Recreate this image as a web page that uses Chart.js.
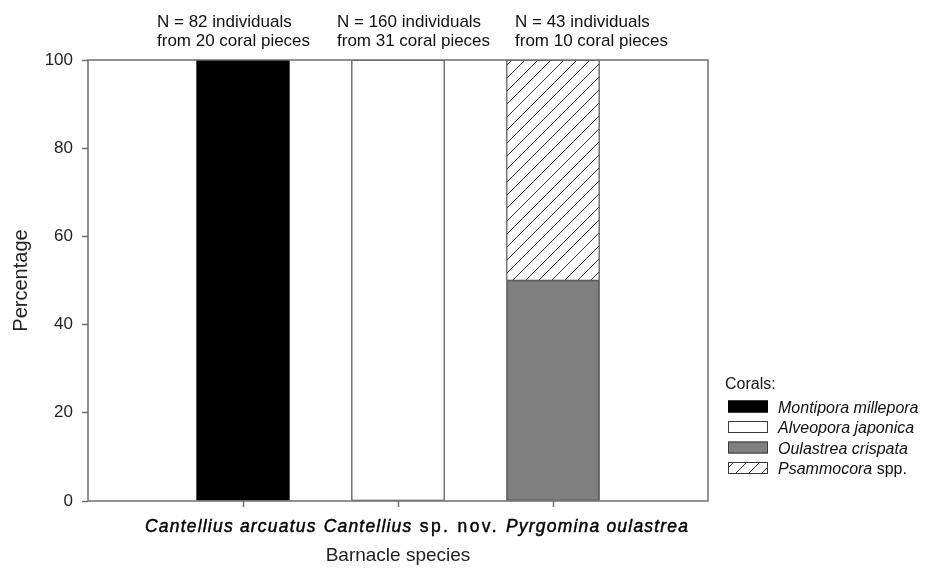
<!DOCTYPE html>
<html>
<head>
<meta charset="utf-8">
<script src="https://cdn.jsdelivr.net/npm/chart.js@4/dist/chart.umd.min.js"></script>
<style>
  html, body { margin: 0; padding: 0; background: #fff; }
  #wrap { width: 933px; height: 570px; }
</style>
</head>
<body>
<div id="wrap"><canvas id="c" width="933" height="570"></canvas></div>
<script>
// Barnacle species (x categories); italic part of each name
const species = ['Cantellius arcuatus', 'Cantellius sp. nov.', 'Pyrgomina oulastrea'];
const speciesItalic = ['Cantellius arcuatus', 'Cantellius', 'Pyrgomina oulastrea'];

// Sample sizes written above each bar
const sampleNotes = [
  ['N = 82 individuals', 'from 20 coral pieces'],
  ['N = 160 individuals', 'from 31 coral pieces'],
  ['N = 43 individuals', 'from 10 coral pieces']
];

// Host corals (stacked series) and the italic part of each name
const corals = ['Montipora millepora', 'Alveopora japonica', 'Oulastrea crispata', 'Psammocora spp.'];
const coralsItalic = ['Montipora millepora', 'Alveopora japonica', 'Oulastrea crispata', 'Psammocora'];

// Percentage of individuals found on each coral, per barnacle species
const montipora  = [100, null, null];
const alveopora  = [null, 100, null];
const oulastrea  = [null, null, 50];
const psammocora = [null, null, 50];

const yTicks = [0, 20, 40, 60, 80, 100];

const FONT = '"Liberation Sans", Arial, Helvetica, sans-serif';
const FRAME = '#6f6f6f';
const EDGE = '#3a3a3a';

// diagonal hatch used for Psammocora
function makeHatch() {
  const s = 13;
  const p = document.createElement('canvas');
  p.width = s; p.height = s;
  const g = p.getContext('2d');
  g.fillStyle = '#fff';
  g.fillRect(0, 0, s, s);
  g.strokeStyle = '#333';
  g.lineWidth = 1;
  g.beginPath();
  g.moveTo(-1, s + 1); g.lineTo(s + 1, -1);
  g.moveTo(-1, 1); g.lineTo(1, -1);
  g.moveTo(s - 1, s + 1); g.lineTo(s + 1, s - 1);
  g.stroke();
  return g.createPattern(p, 'repeat');
}
const ctx = document.getElementById('c').getContext('2d');
const hatch = makeHatch();

const coralFills = ['#000000', '#ffffff', '#808080', hatch];
const coralEdges = ['#000000', EDGE, EDGE, EDGE];

// spacer categories at both ends keep the bars in the inner slots
const pad = arr => [null, ...arr, null];
const catLabels = ['', ...species, ''];
const series = [montipora, alveopora, oulastrea, psammocora];

// draw a run of text pieces, some italic, starting at x
function richText(c, x, y, pieces, size, opts) {
  const o = opts || {};
  c.save();
  c.textBaseline = 'alphabetic';
  c.textAlign = 'left';
  let cx = x;
  for (const p of pieces) {
    c.font = (p.italic ? 'italic ' : '') + size + 'px ' + FONT;
    c.letterSpacing = (p.italic ? (o.spacing || 0) : (o.plainSpacing || o.spacing || 0)) + 'px';
    c.fillText(p.text, cx, y);
    if (o.weight) {
      c.lineWidth = o.weight;
      c.strokeStyle = c.fillStyle;
      c.strokeText(p.text, cx, y);
    }
    cx += c.measureText(p.text).width;
  }
  c.restore();
  return cx - x;
}
function splitItalic(full, ital) {
  if (full === ital) return [{ text: full, italic: true }];
  return [{ text: ital, italic: true }, { text: full.slice(ital.length), italic: false }];
}

const decorations = {
  id: 'decorations',
  afterDatasetsDraw(chart) {
    const c = chart.ctx;
    const a = chart.chartArea;
    const xs = chart.scales.x;
    c.save();
    // plot frame
    c.strokeStyle = FRAME;
    c.lineWidth = 1.5;
    c.strokeRect(a.left, a.top, a.right - a.left, a.bottom - a.top);

    // species names under the axis, laid out as one line
    let x = xs.getPixelForValue(1) - 98;
    c.fillStyle = '#000';
    species.forEach((name, i) => {
      const w = richText(c, x, a.bottom + 31, splitItalic(name, speciesItalic[i]), 17.5,
                         { spacing: 1.2, plainSpacing: 2.4, weight: 0.45 });
      x += w + 7;
    });

    // sample sizes above the plot
    const noteShift = [-86, -61, -38];
    c.font = '17px ' + FONT;
    c.textAlign = 'left';
    c.textBaseline = 'alphabetic';
    c.fillStyle = '#111';
    sampleNotes.forEach((lines, i) => {
      const nx = xs.getPixelForValue(i + 1) + noteShift[i];
      c.fillText(lines[0], nx, a.top - 33);
      c.fillText(lines[1], nx, a.top - 14);
    });

    // legend
    const lx = a.right + 17;
    c.font = '16px ' + FONT;
    c.fillText('Corals:', lx, 389);
    corals.forEach((name, i) => {
      const cy = 406.5 + i * 20.5;
      c.fillStyle = coralFills[i];
      c.fillRect(lx + 3, cy - 6, 40, 12);
      c.strokeStyle = coralEdges[i];
      c.lineWidth = 1;
      c.strokeRect(lx + 3.5, cy - 5.5, 39, 11);
      c.fillStyle = '#111';
      richText(c, lx + 53, cy + 6, splitItalic(name, coralsItalic[i]), 16);
    });
    c.restore();
  }
};

new Chart(ctx, {
  type: 'bar',
  data: {
    labels: catLabels,
    datasets: corals.map((name, i) => ({
      label: name,
      data: pad(series[i]),
      backgroundColor: coralFills[i],
      borderColor: coralEdges[i],
      borderWidth: 1.2,
      borderSkipped: false,
      barThickness: 93
    }))
  },
  options: {
    responsive: false,
    animation: false,
    layout: { padding: { top: 60, right: 225, bottom: 0, left: 0 } },
    plugins: { legend: { display: false }, tooltip: { enabled: false } },
    scales: {
      x: {
        stacked: true,
        offset: false,
        grid: {
          offset: false,
          drawOnChartArea: false,
          drawTicks: true,
          tickLength: 6,
          tickWidth: 1.5,
          tickColor: c => (c.index === 0 || c.index === catLabels.length - 1) ? 'rgba(0,0,0,0)' : FRAME
        },
        border: { display: false },
        ticks: { display: false },
        title: {
          display: true,
          text: 'Barnacle species',
          color: '#222',
          font: { family: FONT, size: 19 },
          padding: { top: 0, bottom: 3 }
        },
        afterFit: s => { s.height = 69; }
      },
      y: {
        stacked: true,
        min: 0,
        max: 100,
        afterBuildTicks: s => { s.ticks = yTicks.map(v => ({ value: v })); },
        grid: {
          drawOnChartArea: false,
          drawTicks: true,
          tickLength: 6,
          tickWidth: 1.5,
          tickColor: FRAME
        },
        border: { display: false },
        ticks: {
          color: '#222',
          padding: 9,
          font: { family: FONT, size: 17 }
        },
        title: {
          display: true,
          text: 'Percentage',
          color: '#222',
          font: { family: FONT, size: 20 },
          padding: { top: 9, bottom: 0 }
        },
        afterFit: s => { s.width = 88; }
      }
    }
  },
  plugins: [decorations]
});
</script>
</body>
</html>
